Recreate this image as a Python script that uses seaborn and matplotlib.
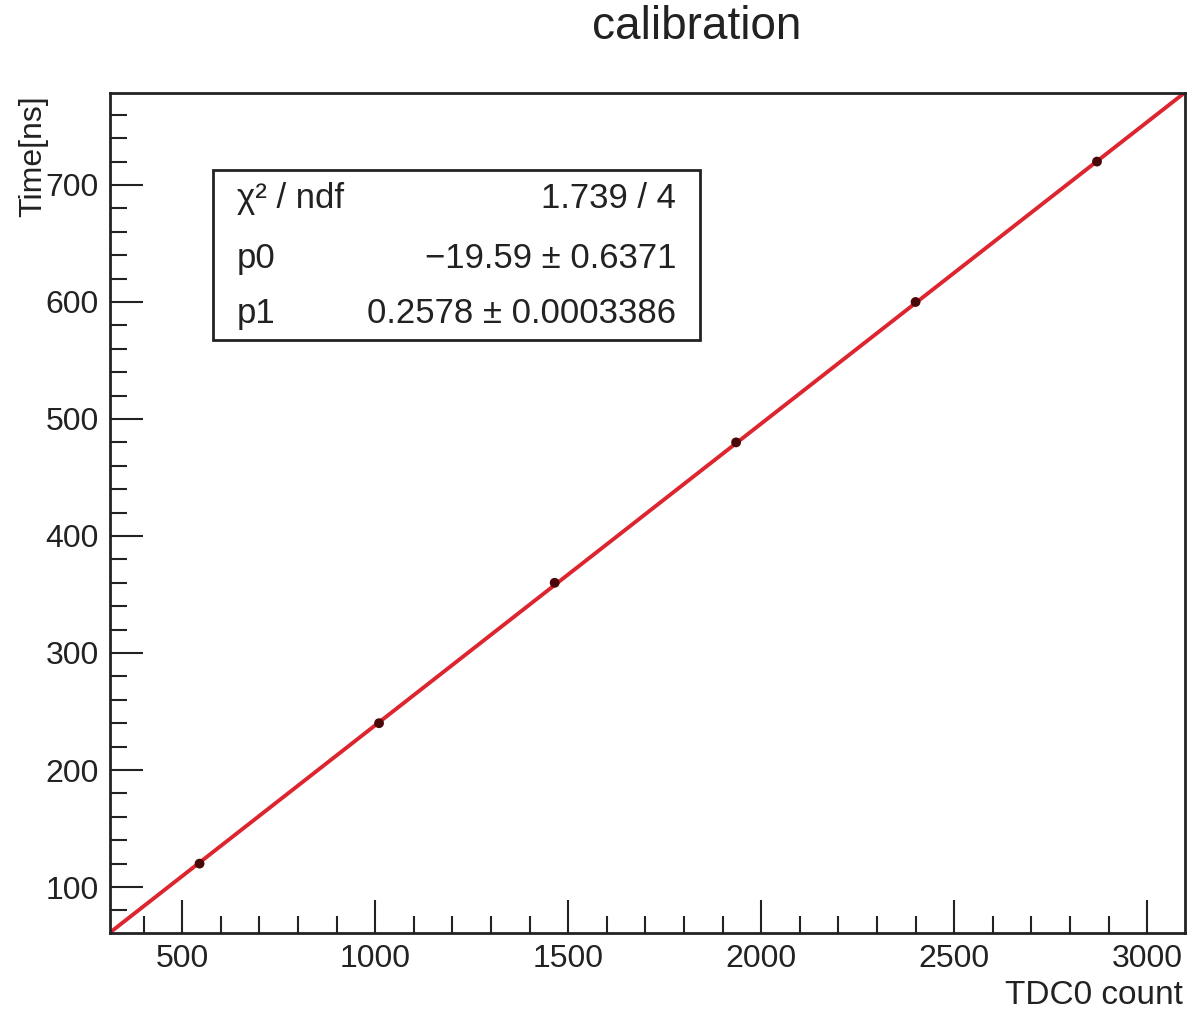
import numpy as np
import pandas as pd
import matplotlib
matplotlib.use("Agg")
import matplotlib.pyplot as plt
import seaborn as sns
from matplotlib.ticker import MultipleLocator
from matplotlib.patches import Rectangle

# data
tdc_counts = [545, 1010, 1465, 1935, 2400, 2870]
time_ns = [120, 240, 360, 480, 600, 720]
p0, p0_err = -19.59, 0.6371
p1, p1_err = 0.2578, 0.0003386
chi2, ndf = 1.739, 4
x_range = (313, 3098)
y_range = (60.7, 778.6)

sns.set_theme(style="white")
plt.rcParams['font.family'] = ['Liberation Sans', 'DejaVu Sans']

fig = plt.figure(figsize=(11.95, 10.10), dpi=100)
ax = fig.add_axes([110/1195, 77/1010, 1075/1195, 840/1010])

fit_x = np.linspace(x_range[0], x_range[1], 200)
fit_df = pd.DataFrame({"x": fit_x, "y": p0 + p1 * fit_x})
sns.lineplot(data=fit_df, x="x", y="y", ax=ax, color="#dd2530", lw=2.8, zorder=2)
pts = pd.DataFrame({"x": tdc_counts, "y": time_ns})
sns.scatterplot(data=pts, x="x", y="y", ax=ax, color="#4a0808", s=50,
                edgecolor="none", zorder=3)

ax.set_xlim(*x_range)
ax.set_ylim(*y_range)
ax.set_xlabel("")
ax.set_ylabel("")

ax.xaxis.set_major_locator(MultipleLocator(500))
ax.xaxis.set_minor_locator(MultipleLocator(100))
ax.yaxis.set_major_locator(MultipleLocator(100))
ax.yaxis.set_minor_locator(MultipleLocator(20))
ax.tick_params(which="both", direction="in", top=False, right=False,
               bottom=True, left=True, colors="#222222", width=1.5)
ax.tick_params(which="major", length=24, labelsize=23, pad=8, labelcolor="#222222")
ax.tick_params(which="minor", length=12)
for s in ax.spines.values():
    s.set_color("#222222")
    s.set_linewidth(2.0)
    s.set_visible(True)

# stats box
bx0, by0, bw, bh = 0.0958, 0.706, 0.453, 0.202
ax.add_patch(Rectangle((bx0, by0), bw, bh, transform=ax.transAxes,
                       facecolor="white", edgecolor="#222222", lw=2, zorder=5))
rows = [("\u03c7\u00b2 / ndf", f"{chi2:.3f} / {ndf}"),
        ("p0", f"\u2212{abs(p0):.2f} \u00b1 {p0_err:.4f}"),
        ("p1", f"{p1:.4f} \u00b1 {p1_err:.7f}")]
row_y = [0.875, 0.803, 0.738]
for (lab, val), yy in zip(rows, row_y):
    ax.text(bx0 + 0.022, yy, lab, transform=ax.transAxes, fontsize=25,
            ha="left", va="center", color="#222222", zorder=6)
    ax.text(bx0 + bw - 0.022, yy, val, transform=ax.transAxes, fontsize=25,
            ha="right", va="center", color="#222222", zorder=6)

fig.text(697/1195, 1 - 27/1010, "calibration", fontsize=33, ha="center",
         va="center", color="#222222")
fig.text(1183/1195, 1 - 995/1010, "TDC0 count", fontsize=24, ha="right",
         va="center", color="#222222")
fig.text(33/1195, 1 - 95/1010, "Time[ns]", fontsize=23, ha="center",
         va="top", rotation=90, color="#222222")

fig.savefig("out.png", dpi=100)
